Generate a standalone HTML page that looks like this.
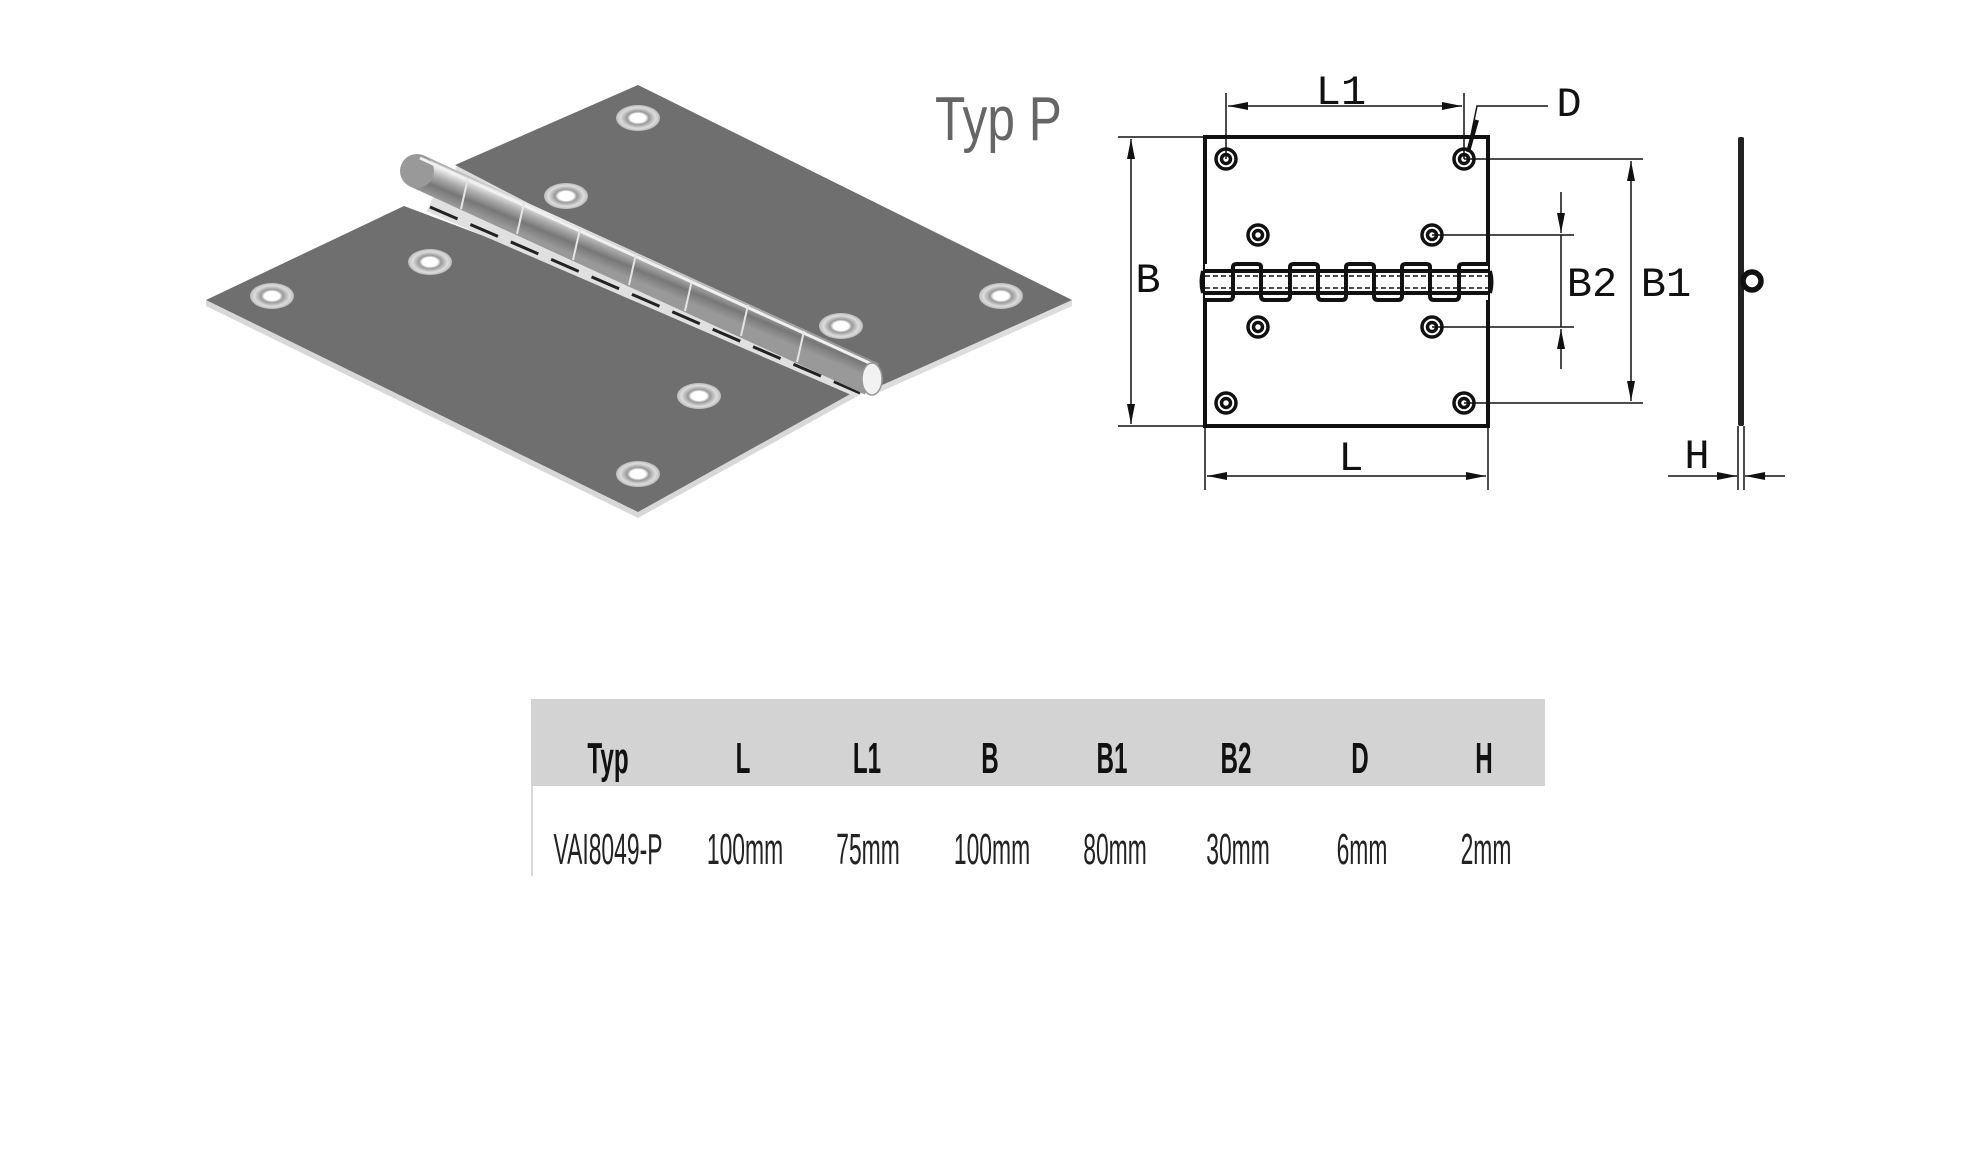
<!DOCTYPE html>
<html><head><meta charset="utf-8"><style>
html,body{margin:0;padding:0;background:#fff;}
svg{display:block}
.m{font-family:"Liberation Mono",monospace;font-size:42px;fill:#111}
.t{font-family:"Liberation Sans",sans-serif;}
</style></head><body>
<svg width="1982" height="1160" viewBox="0 0 1982 1160" xmlns="http://www.w3.org/2000/svg">
<defs>
<linearGradient id="pin" gradientUnits="userSpaceOnUse" x1="424" y1="154" x2="410" y2="188">
<stop offset="0" stop-color="#888"/><stop offset="0.2" stop-color="#eee"/><stop offset="0.45" stop-color="#aaa"/><stop offset="0.7" stop-color="#777"/><stop offset="1" stop-color="#999"/>
</linearGradient>
<radialGradient id="hole" cx="0.5" cy="0.5" r="0.5">
<stop offset="0.35" stop-color="#fff"/><stop offset="0.5" stop-color="#999"/><stop offset="0.8" stop-color="#ddd"/><stop offset="1" stop-color="#bbb"/>
</radialGradient>
<marker id="ar" viewBox="0 0 20 8" refX="20" refY="4" markerWidth="20" markerHeight="8" markerUnits="userSpaceOnUse" orient="auto-start-reverse"><path d="M0,0 L20,4 L0,8 Z" fill="#111"/></marker>
</defs>

<!-- photo -->
<g>
<polygon points="455,168 638,85 1072,300 1072,306 880,392 460,175" fill="#ddd"/>
<polygon points="455,165 638,85 1072,300 880,386" fill="#6f6f6f"/>
<polygon points="206,300 206,306 638,518 872,388 872,382 638,512" fill="#d8d8d8"/>
<polygon points="206,300 404,206 872,382 638,512" fill="#6f6f6f"/>
<line x1="430" y1="204" x2="860" y2="390" stroke="#e0e0e0" stroke-width="16"/>
<line x1="430" y1="207" x2="860" y2="393" stroke="#222" stroke-width="3" stroke-dasharray="30 14"/>
<!-- pin -->
<polygon points="424,155.5 879,363.5 865,394.5 410,186.5" fill="url(#pin)"/>
<circle cx="417" cy="171" r="17" fill="#999"/>
<line x1="420" y1="158" x2="876" y2="366" stroke="#f0f0f0" stroke-width="3"/>
<g stroke="#e4e4e4" stroke-width="2">
<line x1="468" y1="178" x2="461" y2="209"/><line x1="524" y1="203" x2="517" y2="234"/>
<line x1="580" y1="229" x2="573" y2="260"/><line x1="636" y1="254" x2="629" y2="285"/>
<line x1="692" y1="280" x2="685" y2="311"/><line x1="748" y1="305" x2="741" y2="336"/>
<line x1="804" y1="331" x2="797" y2="362"/>
</g>
<ellipse cx="872" cy="379" rx="10" ry="16" fill="#f2f2f2" stroke="#999" stroke-width="1.5"/>
<g fill="url(#hole)">
<ellipse cx="638" cy="118" rx="22" ry="13"/><ellipse cx="566" cy="196" rx="22" ry="13"/>
<ellipse cx="430" cy="262" rx="22" ry="13"/><ellipse cx="272" cy="296" rx="22" ry="13"/>
<ellipse cx="841" cy="326" rx="22" ry="13"/><ellipse cx="1001" cy="296" rx="22" ry="13"/>
<ellipse cx="699" cy="396" rx="22" ry="13"/><ellipse cx="638" cy="474" rx="22" ry="13"/>
</g>
</g>
<text x="935" y="140" font-size="62" fill="#666" class="t" transform="translate(935,0) scale(0.8,1) translate(-935,0)">Typ P</text>

<!-- drawing -->
<g stroke="#111" fill="none">
<rect x="1205" y="137" width="283" height="289" stroke-width="4"/>
<rect x="1205" y="264" width="283" height="36" fill="#fff" stroke="none"/>
<line x1="1203" y1="271" x2="1490" y2="271" stroke-width="4"/>
<line x1="1203" y1="293" x2="1490" y2="293" stroke-width="4"/>
<line x1="1205" y1="276" x2="1488" y2="276" stroke-width="1.5" stroke-dasharray="5 3"/>
<line x1="1205" y1="288" x2="1488" y2="288" stroke-width="1.5" stroke-dasharray="5 3"/>
<path d="M1203,271 Q1200,282 1203,293 M1490,271 Q1493,282 1490,293" stroke-width="4"/>
<g stroke-width="4">
<path d="M1233,271 V267 Q1233,264 1237,264 H1257 Q1261,264 1261,267 V293"/>
<path d="M1290,271 V267 Q1290,264 1294,264 H1314 Q1318,264 1318,267 V293"/>
<path d="M1346,271 V267 Q1346,264 1350,264 H1370 Q1374,264 1374,267 V293"/>
<path d="M1402,271 V267 Q1402,264 1406,264 H1426 Q1430,264 1430,267 V293"/>
<path d="M1459,271 V267 Q1459,264 1463,264 H1488"/>
<path d="M1205,300 H1229 Q1233,300 1233,296 V271"/>
<path d="M1261,293 V296 Q1261,300 1265,300 H1286 Q1290,300 1290,296 V271"/>
<path d="M1318,293 V296 Q1318,300 1322,300 H1342 Q1346,300 1346,296 V271"/>
<path d="M1374,293 V296 Q1374,300 1378,300 H1398 Q1402,300 1402,296 V271"/>
<path d="M1430,293 V296 Q1430,300 1434,300 H1455 Q1459,300 1459,296 V271"/>
</g>
<g stroke-width="3.5">
<circle cx="1226" cy="159" r="10"/><circle cx="1226" cy="159" r="4.5"/>
<circle cx="1464" cy="159" r="10"/><circle cx="1464" cy="159" r="4.5"/>
<circle cx="1226" cy="403" r="10"/><circle cx="1226" cy="403" r="4.5"/>
<circle cx="1464" cy="403" r="10"/><circle cx="1464" cy="403" r="4.5"/>
<circle cx="1258" cy="235" r="10"/><circle cx="1258" cy="235" r="4.5"/>
<circle cx="1432" cy="235" r="10"/><circle cx="1432" cy="235" r="4.5"/>
<circle cx="1258" cy="327" r="10"/><circle cx="1258" cy="327" r="4.5"/>
<circle cx="1432" cy="327" r="10"/><circle cx="1432" cy="327" r="4.5"/>
</g>
<g stroke-width="1.5">
<line x1="1118" y1="137" x2="1205" y2="137"/><line x1="1118" y1="426" x2="1205" y2="426"/>
<line x1="1131" y1="139" x2="1131" y2="424" marker-start="url(#ar)" marker-end="url(#ar)"/>
<line x1="1226" y1="93" x2="1226" y2="159"/><line x1="1464" y1="93" x2="1464" y2="159"/>
<line x1="1228" y1="106" x2="1462" y2="106" marker-start="url(#ar)" marker-end="url(#ar)"/>
<polyline points="1468,150 1477,106 1548,106"/>
<line x1="1477" y1="120" x2="1468" y2="152" stroke-width="4"/>
<line x1="1205" y1="426" x2="1205" y2="490"/><line x1="1488" y1="426" x2="1488" y2="490"/>
<line x1="1207" y1="476" x2="1486" y2="476" marker-start="url(#ar)" marker-end="url(#ar)"/>
<line x1="1464" y1="159" x2="1643" y2="159"/><line x1="1464" y1="403" x2="1643" y2="403"/>
<line x1="1631" y1="161" x2="1631" y2="401" marker-start="url(#ar)" marker-end="url(#ar)"/>
<line x1="1432" y1="235" x2="1574" y2="235"/><line x1="1432" y1="327" x2="1574" y2="327"/>
<line x1="1561" y1="192" x2="1561" y2="233" marker-end="url(#ar)"/>
<line x1="1561" y1="369" x2="1561" y2="329" marker-end="url(#ar)"/>
<line x1="1561" y1="235" x2="1561" y2="327"/>
<line x1="1738" y1="426" x2="1738" y2="490"/><line x1="1744" y1="426" x2="1744" y2="490"/>
<line x1="1668" y1="476" x2="1737" y2="476" marker-end="url(#ar)"/>
<line x1="1785" y1="476" x2="1745" y2="476" marker-end="url(#ar)"/>
</g>
<rect x="1738" y="137" width="6" height="289" fill="#222" stroke="none" rx="2"/>
<circle cx="1752" cy="281" r="9" stroke-width="5.5"/>
</g>
<text class="m" x="1148" y="292" text-anchor="middle">B</text>
<text class="m" x="1341" y="104" text-anchor="middle">L1</text>
<text class="m" x="1569" y="116" text-anchor="middle">D</text>
<text class="m" x="1351" y="470" text-anchor="middle">L</text>
<text class="m" x="1666" y="296" text-anchor="middle">B1</text>
<text class="m" x="1592" y="296" text-anchor="middle">B2</text>
<text class="m" x="1697" y="468" text-anchor="middle">H</text>

<!-- table -->
<rect x="531" y="699" width="1014" height="87" fill="#d3d3d3"/>
<line x1="532" y1="786" x2="532" y2="876" stroke="#ccc" stroke-width="1.5"/>
<g class="t" font-size="44" font-weight="bold" fill="#111" text-anchor="middle">
<text x="0" y="773" transform="translate(608,0) scale(0.55,1)">Typ</text>
<text x="0" y="773" transform="translate(743,0) scale(0.55,1)">L</text>
<text x="0" y="773" transform="translate(867,0) scale(0.55,1)">L1</text>
<text x="0" y="773" transform="translate(990,0) scale(0.55,1)">B</text>
<text x="0" y="773" transform="translate(1112,0) scale(0.55,1)">B1</text>
<text x="0" y="773" transform="translate(1236,0) scale(0.55,1)">B2</text>
<text x="0" y="773" transform="translate(1360,0) scale(0.55,1)">D</text>
<text x="0" y="773" transform="translate(1484,0) scale(0.55,1)">H</text>
</g>
<g class="t" font-size="44" fill="#222" text-anchor="middle">
<text x="0" y="864" transform="translate(608,0) scale(0.52,1)">VAI8049-P</text>
<text x="0" y="864" transform="translate(745,0) scale(0.52,1)">100mm</text>
<text x="0" y="864" transform="translate(868,0) scale(0.52,1)">75mm</text>
<text x="0" y="864" transform="translate(992,0) scale(0.52,1)">100mm</text>
<text x="0" y="864" transform="translate(1115,0) scale(0.52,1)">80mm</text>
<text x="0" y="864" transform="translate(1238,0) scale(0.52,1)">30mm</text>
<text x="0" y="864" transform="translate(1362,0) scale(0.52,1)">6mm</text>
<text x="0" y="864" transform="translate(1486,0) scale(0.52,1)">2mm</text>
</g>
</svg>
</body></html>
